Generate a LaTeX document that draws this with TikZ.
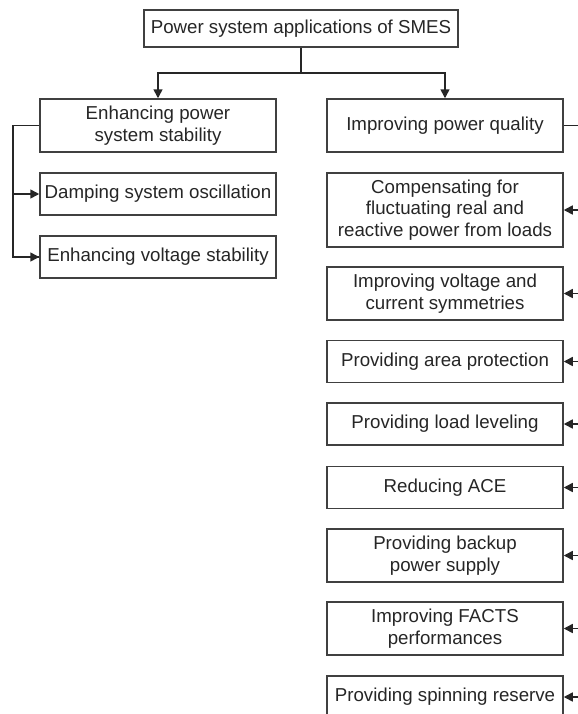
\documentclass[tikz,border=0pt]{standalone}
\usepackage{fontspec}
\setmainfont{Liberation Sans}
\usetikzlibrary{arrows.meta}

\begin{document}
\begin{tikzpicture}[x=0.5pt,y=-0.5pt,>={Triangle[length=4.5pt,width=4.5pt]},
                    line width=0.75pt,draw=black!80,
                    font=\fontsize{9.35}{10.8}\selectfont]
  \tikzstyle{box}=[rectangle,draw=black!75,fill=white,text=black!85,
                   align=center,inner sep=0pt,minimum width=118pt]
  \tikzstyle{one}=[box,minimum height=21pt]
  \tikzstyle{two}=[box,minimum height=26.5pt]
  \tikzstyle{three}=[box,minimum height=37pt]
  \tikzstyle{link}=[draw=black!85]

  \useasboundingbox (0,0) rectangle (578,714);

  \node[box,minimum width=157pt,minimum height=18.5pt] (R) at (301,28.5) {Power system applications of SMES};

  % left branch
  \node[two] (L)  at (158,125.5) {Enhancing power\\system stability};
  \node[one] (L1) at (158,194)   {Damping system oscillation};
  \node[one] (L2) at (158,257)   {Enhancing voltage stability};

  % right branch
  \node[two]   (Q)  at (445,125.5) {Improving power quality};
  \node[three] (Q1) at (445,210)   {Compensating for\\fluctuating real and\\reactive power from loads};
  \node[two]   (Q2) at (445,293.5) {Improving voltage and\\current symmetries};
  \node[one]   (Q3) at (445,361.5) {Providing area protection};
  \node[one]   (Q4) at (445,424)   {Providing load leveling};
  \node[one]   (Q5) at (445,487.5) {Reducing ACE};
  \node[two]   (Q6) at (445,555.5) {Providing backup\\power supply};
  \node[two]   (Q7) at (445,628.5) {Improving FACTS\\performances};
  \node[one]   (Q8) at (445,697)   {Providing spinning reserve};

  \coordinate (Rj) at (301,73);
  \coordinate (Lt) at (13,125.5);
  \coordinate (Qt) at (584,125.5);

  \draw[link,->] (R.south) -- (Rj) -| (L.north);
  \draw[link,->] (Rj) -| (Q.north);

  \draw[link] (L.west) -- (Lt) |- (L2.west);
  \draw[link,->] (Lt |- L2.west) -- (L2.west);
  \draw[link,->] (Lt |- L1.west) -- (L1.west);

  \draw[link] (Q.east) -- (Qt) -- (Qt |- Q8.east);
  \foreach \n in {Q1,Q2,Q3,Q4,Q5,Q6,Q7,Q8}
    \draw[link,->] (Qt |- \n.east) -- (\n.east);
\end{tikzpicture}
\end{document}
